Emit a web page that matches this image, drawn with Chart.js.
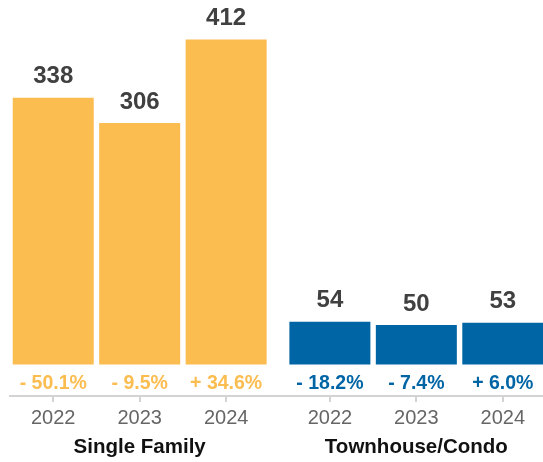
<!DOCTYPE html>
<html>
<head>
<meta charset="utf-8">
<script src="https://cdn.jsdelivr.net/npm/chart.js@4.4.1/dist/chart.umd.min.js"></script>
<style>
  html, body { margin: 0; padding: 0; background: #fff; overflow: hidden; }
  #wrap { width: 543px; height: 462px; position: relative; }
</style>
</head>
<body>
<div id="wrap"><canvas id="chart"></canvas></div>
<script>
// Daten
const years = ['2022', '2023', '2024'];
const groups = ['Single Family', 'Townhouse/Condo'];
const singleFamily = [338, 306, 412];
const townhouse = [54, 50, 53];
const singleFamilyChange = ['- 50.1%', '- 9.5%', '+ 34.6%'];
const townhouseChange = ['- 18.2%', '- 7.4%', '+ 6.0%'];

const GELB = '#FBBC50';
const BLAU = '#0065A5';
const FONT = "'Liberation Sans', Arial, Helvetica, sans-serif";
const LUECKE = 0.2; // zusätzlicher Abstand zwischen den Gruppen (in Balken-Slots)

// Position eines Balkens auf der linearen x-Achse
function slot(g, i) { return g * (years.length + LUECKE) + i; }
const slots = [];
groups.forEach((g, gi) => years.forEach((y, yi) => slots.push(slot(gi, yi))));

// ========== Beschriftungen (Werte, Veränderung, Gruppennamen) ==========
const beschriftung = {
  id: 'beschriftung',
  afterDatasetsDraw(chart) {
    const ctx = chart.ctx;
    const changes = [singleFamilyChange, townhouseChange];
    const xAxis = chart.scales.x;
    ctx.save();
    ctx.textAlign = 'center';
    ctx.textBaseline = 'middle';
    chart.data.datasets.forEach((ds, di) => {
      chart.getDatasetMeta(di).data.forEach((bar, i) => {
        ctx.font = 'bold 24px ' + FONT;
        ctx.fillStyle = '#404040';
        ctx.fillText(ds.data[i].y, bar.x, bar.y - 21);
        ctx.font = 'bold 19.5px ' + FONT;
        ctx.fillStyle = ds.backgroundColor;
        ctx.fillText(changes[di][i], bar.x, bar.base + 19);
      });
      ctx.font = 'bold 20.5px ' + FONT;
      ctx.fillStyle = '#111';
      ctx.fillText(groups[di], xAxis.getPixelForValue(slot(di, 1)), 447);
    });
    ctx.restore();
  }
};

const ctx = document.getElementById('chart').getContext('2d');
new Chart(ctx, {
  type: 'bar',
  data: {
    datasets: [
      {
        label: groups[0],
        data: singleFamily.map((v, i) => ({ x: slot(0, i), y: v })),
        backgroundColor: GELB
      },
      {
        label: groups[1],
        data: townhouse.map((v, i) => ({ x: slot(1, i), y: v })),
        backgroundColor: BLAU
      }
    ]
  },
  options: {
    responsive: true,
    maintainAspectRatio: false,
    animation: false,
    grouped: false,
    categoryPercentage: 1,
    barPercentage: 0.937,
    layout: { padding: { left: 10, right: 0, top: 0, bottom: 28 } },
    plugins: {
      legend: { display: false },
      tooltip: { enabled: false }
    },
    scales: {
      x: {
        type: 'linear',
        min: -0.5,
        max: 5.665,
        offset: false,
        afterBuildTicks: s => { s.ticks = slots.map(v => ({ value: v })); },
        ticks: {
          callback: (v, i) => years[i % years.length],
          autoSkip: false,
          maxRotation: 0,
          padding: 4,
          color: '#666',
          font: { family: FONT, size: 20 }
        },
        grid: {
          offset: false,
          drawOnChartArea: false,
          drawTicks: true,
          tickLength: 6,
          color: '#d3d3d3',
          lineWidth: 2
        },
        border: { display: true, color: '#d3d3d3', width: 2 }
      },
      y: {
        display: false,
        min: -40,
        max: 462
      }
    }
  },
  plugins: [beschriftung]
});
</script>
</body>
</html>
